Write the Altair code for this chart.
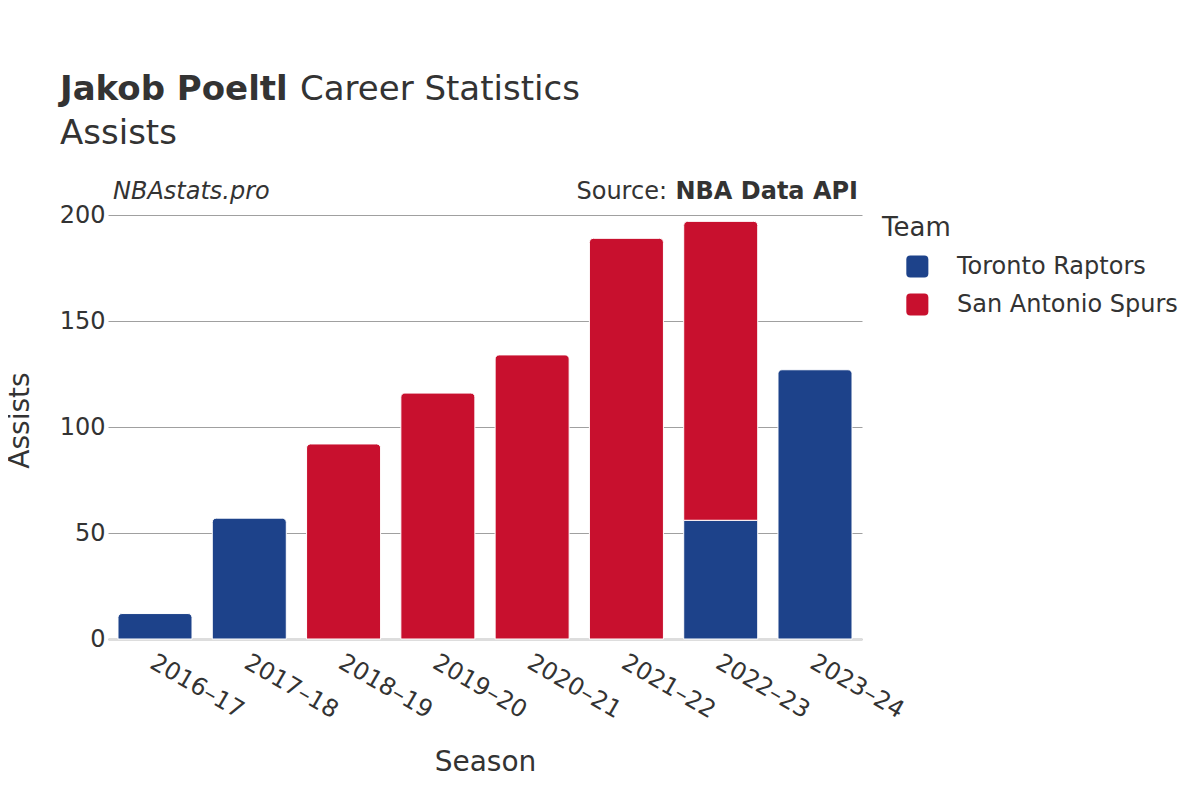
import altair as alt
import pandas as pd

# ---- data ----
seasons = ["2016–17", "2017–18", "2018–19", "2019–20", "2020–21", "2021–22", "2022–23", "2023–24"]
teams = ["Toronto Raptors", "San Antonio Spurs"]
team_colors = ["#1d428a", "#c8102e"]
toronto_ast = [12, 57, 0, 0, 0, 0, 56, 127]
spurs_ast = [0, 0, 92, 116, 134, 189, 141, 0]

title_bold = "Jakob Poeltl"
title_rest = "Career Statistics"
subtitle = "Assists"
credit = "NBAstats.pro"
source_lbl = "Source:"
source_name = "NBA Data API"

# ---- stacked table (Toronto at the bottom) ----
rows = []
for i, s in enumerate(seasons):
    start = 0
    segs = [(teams[0], toronto_ast[i]), (teams[1], spurs_ast[i])]
    segs = [sg for sg in segs if sg[1] > 0]
    for j, (t, v) in enumerate(segs):
        rows.append({"season": s, "team": t, "assists": v, "y0": start, "y1": start + v,
                     "is_top": j == len(segs) - 1})
        start += v
df = pd.DataFrame(rows)

FONT = "DejaVu Sans"
TXT = "#333333"
W, H = 754, 424

x_enc = alt.X("season:N", sort=seasons,
              scale=alt.Scale(domain=seasons, paddingInner=0.215, paddingOuter=0.106),
              axis=alt.Axis(title="Season", labelAngle=30, labelAlign="left", labelBaseline="top",
                            labelFontSize=24, labelPadding=11, labelOffset=3, ticks=False, grid=False,
                            domainColor="#dddddd", domainWidth=3,
                            titleFontSize=28, titleFontWeight="normal", titleBaseline="alphabetic",
                            titleY=131, labelColor=TXT, titleColor=TXT))
y_enc = alt.Y("y0:Q", scale=alt.Scale(domain=[0, 200], nice=False),
              axis=alt.Axis(title="Assists", values=[0, 50, 100, 150, 200], domain=False, ticks=False,
                            gridColor="#a0a0a0", gridWidth=1, labelFontSize=24, labelPadding=3,
                            titleFontSize=28, titleFontWeight="normal", titleAngle=270,
                            titleAlign="center", titleBaseline="alphabetic", titleX=-80, titleY=205,
                            labelColor=TXT, titleColor=TXT))
y2_enc = alt.Y2("y1:Q")

sym_path = ("M 0.49,-0.58 H 1.23 Q 1.44,-0.58 1.44,-0.37 V 0.37 Q 1.44,0.58 1.23,0.58 "
            "H 0.49 Q 0.28,0.58 0.28,0.37 V -0.37 Q 0.28,-0.58 0.49,-0.58 Z")
color_enc = alt.Color("team:N", scale=alt.Scale(domain=teams, range=team_colors),
                      legend=alt.Legend(title="Team", orient="none", legendX=774, legendY=0,
                                        padding=0, symbolType=sym_path, symbolSize=1444,
                                        symbolStrokeWidth=0, symbolOpacity=1, labelOffset=37,
                                        labelLimit=0, titlePadding=6.5, rowPadding=7,
                                        titleFontSize=26, titleFontWeight="normal",
                                        labelFontSize=24, titleColor=TXT, labelColor=TXT))

base = alt.Chart(df)
top_bars = base.transform_filter("datum.is_top").mark_bar(
    cornerRadiusTopLeft=4, cornerRadiusTopRight=4, stroke="white", strokeWidth=1
).encode(x=x_enc, y=y_enc, y2=y2_enc, color=color_enc)
low_bars = base.transform_filter("!datum.is_top").mark_bar(
    stroke="white", strokeWidth=1
).encode(x=x_enc, y=y_enc, y2=y2_enc, color=color_enc)


def label(txt, x, y, size, weight="normal", style="normal", align="left"):
    return alt.Chart(pd.DataFrame({"t": [txt]})).mark_text(
        align=align, baseline="alphabetic", font=FONT, fontSize=size, fontWeight=weight,
        fontStyle=style, color=TXT
    ).encode(x=alt.value(x), y=alt.value(y), text="t:N")


texts = [
    label(title_bold, -48, -115, 34, weight="bold"),
    label(title_rest, 192, -115, 34),
    label(subtitle, -48, -71, 34),
    label(credit, 5, -16, 24, style="italic"),
    label(source_name, 750, -16, 24, weight="bold", align="right"),
    label(source_lbl, 559, -16, 24, align="right"),
]

chart = alt.layer(low_bars, top_bars, *texts).properties(
    width=W, height=H,
    autosize=alt.AutoSizeParams(type="none"),
    padding={"left": 100, "top": 207, "right": 330, "bottom": 153},
).configure(font=FONT).configure_view(stroke=None)

chart.save("out.html", embed_options={"renderer": "svg", "actions": False})
